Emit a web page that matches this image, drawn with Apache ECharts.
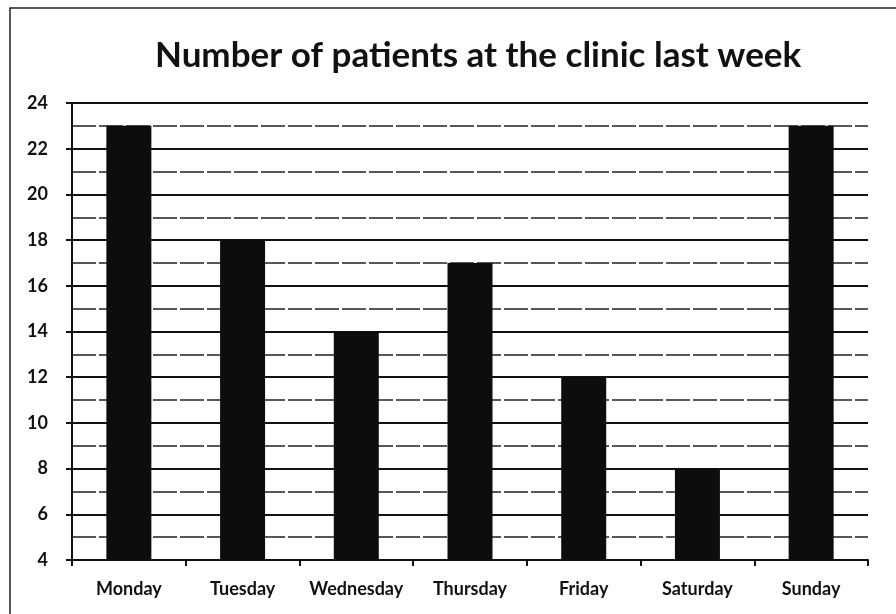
<!DOCTYPE html>
<html><head><meta charset="utf-8">
<script src="https://cdn.jsdelivr.net/npm/echarts@6/dist/echarts.min.js"></script>
<style>html,body{margin:0;padding:0;background:#fff}#c{width:896px;height:614px}</style>
</head><body><div id="c"></div>
<script>
var title = 'Number of patients at the clinic last week';
var days = ['Monday','Tuesday','Wednesday','Thursday','Friday','Saturday','Sunday'];
var patients = [23, 18, 14, 17, 12, 8, 23];
var yMin = 4, yMax = 24, yStep = 2;

var chart = echarts.init(document.getElementById('c'));
chart.setOption({
  animation: false,
  backgroundColor: '#fff',
  graphic: [{
    type: 'rect', shape: {x: 10, y: 8, width: 900, height: 620},
    style: {fill: 'none', stroke: '#222', lineWidth: 1.5}, silent: true
  }],
  title: {
    text: title, left: 150, top: 33,
    textStyle: {fontFamily: 'Lato, "Open Sans", sans-serif', fontSize: 35, fontWeight: 'bold', color: '#111'}
  },
  grid: {left: 72, right: 28, top: 103, bottom: 54, containLabel: false},
  xAxis: {
    type: 'category', data: days, boundaryGap: true,
    axisLine: {lineStyle: {color: '#111', width: 2}},
    axisTick: {show: true, alignWithLabel: false, length: 6, lineStyle: {color: '#111', width: 2}},
    axisLabel: {interval: 0, hideOverlap: false, fontFamily: 'Lato, "Open Sans", sans-serif', fontSize: 18, fontWeight: 'bold', color: '#111', margin: 20}
  },
  yAxis: {
    type: 'value', min: yMin, max: yMax, interval: yStep,
    axisLine: {show: true, lineStyle: {color: '#111', width: 2}},
    axisTick: {show: true, length: 6, lineStyle: {color: '#111', width: 2}},
    axisLabel: {fontFamily: 'Lato, "Open Sans", sans-serif', fontSize: 18, fontWeight: 'bold', color: '#111', margin: 24},
    splitLine: {show: true, lineStyle: {color: '#111', width: 2}},
    minorTick: {show: true, splitNumber: 2, length: 0},
    minorSplitLine: {show: true, lineStyle: {color: '#222', width: 1.5, type: [24, 3]}}
  },
  series: [{
    type: 'bar', data: patients, barWidth: 45,
    itemStyle: {color: '#0d0d0d'}
  }]
});
</script></body></html>
